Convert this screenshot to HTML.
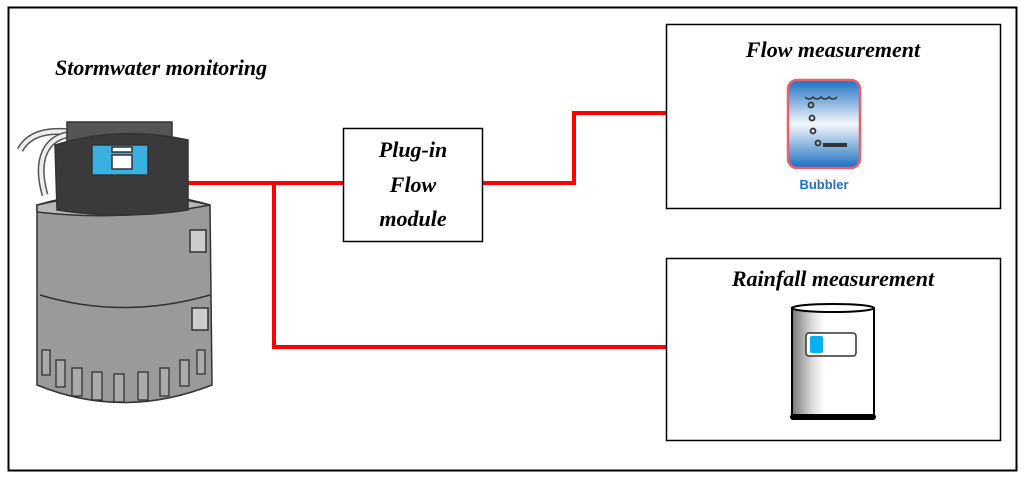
<!DOCTYPE html>
<html><head><meta charset="utf-8"><style>
body{margin:0;background:#fff;}
svg{display:block}
text{font-family:"Liberation Serif",serif;font-style:italic;font-weight:bold;}
text.s{font-family:"Liberation Sans",sans-serif;font-style:normal;}
</style></head><body>
<svg width="1024" height="477" viewBox="0 0 1024 477">
<defs>
<linearGradient id="bub" x1="0" y1="0" x2="0" y2="1">
<stop offset="0" stop-color="#1b6fc0"/><stop offset="0.5" stop-color="#f4f8fc"/><stop offset="1" stop-color="#1b6fc0"/></linearGradient>
<linearGradient id="can" x1="0" y1="0" x2="1" y2="0">
<stop offset="0" stop-color="#777"/><stop offset="0.25" stop-color="#ddd"/><stop offset="0.4" stop-color="#fff"/><stop offset="1" stop-color="#fff"/></linearGradient>
</defs>
<rect x="8.5" y="7.5" width="1008" height="463" fill="#fff" stroke="#000" stroke-width="2"/>
<text x="55" y="75" font-size="22">Stormwater monitoring</text>
<g stroke="#f00" stroke-width="4" fill="none">
<path d="M188 183 H343"/>
<path d="M274 183 V347 H666"/>
<path d="M483 183 H574 V113 H666"/>
</g>
<rect x="343.5" y="128.5" width="139" height="113" fill="#fff" stroke="#000" stroke-width="1.5"/>
<text x="413" y="157" font-size="22" text-anchor="middle">Plug-in</text>
<text x="413" y="192" font-size="22" text-anchor="middle">Flow</text>
<text x="413" y="226" font-size="22" text-anchor="middle">module</text>
<rect x="666.5" y="24.5" width="334" height="184" fill="#fff" stroke="#000" stroke-width="1.5"/>
<text x="833" y="57" font-size="22" text-anchor="middle">Flow measurement</text>
<rect x="788" y="80" width="72" height="88" rx="9" fill="url(#bub)" stroke="#e86070" stroke-width="2.5"/>
<path d="M805 97 q4 4 8 0 q4 4 8 0 q4 4 8 0 q4 4 8 0" stroke="#333" fill="none" stroke-width="1.5"/>
<g fill="none" stroke="#333" stroke-width="1.8"><circle cx="811" cy="105" r="2.5"/><circle cx="812" cy="118" r="2.5"/><circle cx="813" cy="131" r="2.5"/><circle cx="818" cy="143" r="2.5"/></g>
<rect x="823" y="143" width="24" height="4" fill="#333"/>
<text class="s" x="824" y="189" font-size="13" fill="#2070c0" text-anchor="middle">Bubbler</text>
<rect x="666.5" y="258.5" width="334" height="182" fill="#fff" stroke="#000" stroke-width="1.5"/>
<text x="833" y="286" font-size="22" text-anchor="middle">Rainfall measurement</text>
<rect x="792" y="308" width="82" height="110" fill="url(#can)" stroke="#000" stroke-width="2"/>
<ellipse cx="833" cy="308" rx="41" ry="4" fill="#fff" stroke="#000" stroke-width="2"/>
<rect x="790" y="414" width="86" height="6" rx="3" fill="#000"/>
<rect x="806" y="333" width="50" height="23" rx="3" fill="#fff" stroke="#333" stroke-width="1.5"/>
<rect x="810" y="336" width="13" height="17" rx="2" fill="#09b0ef"/>
<!-- device -->
<g fill="none">
<path d="M20 150 C30 132 50 130 72 132" stroke="#555" stroke-width="7"/>
<path d="M20 150 C30 132 50 130 72 132" stroke="#eee" stroke-width="4"/>
<path d="M45 195 C35 160 45 137 72 134" stroke="#555" stroke-width="7"/>
<path d="M45 195 C35 160 45 137 72 134" stroke="#eee" stroke-width="4"/>
</g>
<g stroke="#333" stroke-width="1.5">
<path d="M37 205 Q123 180 210 205 L212 385 Q123 420 37 385 Z" fill="#9a9a9a"/>
<path d="M37 205 Q123 185 210 205 Q123 222 37 212 Z" fill="#b8b8b8"/>
<path d="M40 295 Q123 320 210 295" fill="none"/>
<rect x="67" y="122" width="105" height="28" fill="#555"/>
<path d="M55 145 Q120 125 188 140 L188 210 Q120 220 57 210 Z" fill="#3a3a3a"/>
<rect x="92" y="145" width="56" height="30" fill="#3ab0e0"/>
<rect x="112" y="147" width="20" height="5" fill="#fff"/>
<rect x="112" y="155" width="20" height="14" fill="#fff"/>
<rect x="190" y="230" width="16" height="22" fill="#ccc"/>
<rect x="192" y="308" width="16" height="22" fill="#ccc"/>
</g>
<g fill="#aaa" stroke="#333" stroke-width="1.3">
<rect x="42" y="350" width="8" height="25"/><rect x="56" y="360" width="9" height="27"/><rect x="72" y="368" width="10" height="28"/><rect x="92" y="372" width="10" height="28"/><rect x="114" y="374" width="10" height="28"/><rect x="138" y="372" width="10" height="28"/><rect x="160" y="368" width="9" height="28"/><rect x="180" y="360" width="9" height="26"/><rect x="197" y="350" width="8" height="24"/>
</g>
</svg>
</body></html>
